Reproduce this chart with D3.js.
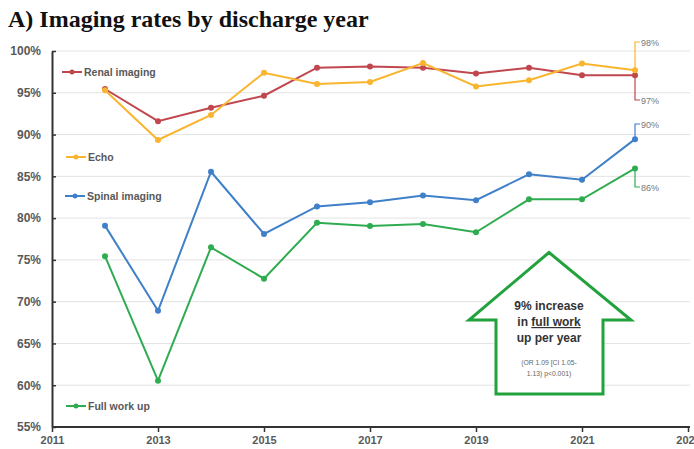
<!DOCTYPE html>
<html><head><meta charset="utf-8">
<script src="https://cdn.jsdelivr.net/npm/d3@7"></script>
<style>body{margin:0;background:#fff}svg{display:block}</style>
</head><body>
<svg id="c" width="694" height="449"></svg>
<script>
const years = [2012,2013,2014,2015,2016,2017,2018,2019,2020,2021,2022];
const renal  = [95.45,91.6,93.2,94.65,98.0,98.15,98.0,97.3,98.0,97.1,97.1];
const echo   = [95.3,89.35,92.35,97.4,96.05,96.3,98.55,95.75,96.5,98.5,97.7];
const spinal = [79.1,68.9,85.55,78.1,81.4,81.9,82.7,82.15,85.25,84.6,89.45];
const full   = [75.45,60.55,76.5,72.75,79.45,79.05,79.3,78.3,82.25,82.25,85.95];
const seriesNames = ["Renal imaging","Echo","Spinal imaging","Full work up"];
const endLabels = ["97%","98%","90%","86%"];
const xTicks = [2011,2013,2015,2017,2019,2021,2023];
const yTicks = [55,60,65,70,75,80,85,90,95,100];
const colors = ["#c0474e","#f9b52f","#3f80c8","#2fac50"];

const svg = d3.select("#c");
const x = d3.scaleLinear().domain([2011,2023]).range([52,688]);
const y = d3.scaleLinear().domain([55,100]).range([427,51]);

svg.append("text").attr("x",8).attr("y",27)
  .attr("font-family","Liberation Serif").attr("font-weight","bold").attr("font-size",24)
  .attr("fill","#111").text("A) Imaging rates by discharge year");

// gridlines
svg.append("g").selectAll("line").data(yTicks.filter(d=>d>55)).join("line")
  .attr("x1",52).attr("x2",690).attr("y1",d=>y(d)).attr("y2",d=>y(d))
  .attr("stroke","#e3e3e3").attr("stroke-width",1);

const yAxis = svg.append("g").attr("transform","translate(52,0)")
  .call(d3.axisLeft(y).tickValues(yTicks).tickFormat(d=>d+"%").tickSize(4).tickSizeOuter(0));
const xAxis = svg.append("g").attr("transform","translate(0,427)")
  .call(d3.axisBottom(x).tickValues(xTicks).tickFormat(d3.format("d")).tickSize(5).tickSizeOuter(0));
[yAxis,xAxis].forEach(a=>{
  a.select(".domain").attr("stroke","#333").attr("stroke-width",2);
  a.selectAll(".tick line").attr("stroke","#333").attr("stroke-width",1.5);
  a.selectAll("text").attr("font-family","Liberation Sans").attr("font-weight","bold")
   .attr("font-size",12).attr("fill","#595959");
});
yAxis.selectAll(".tick line").attr("x2",4);
yAxis.selectAll("text").attr("x",-11);
xAxis.selectAll("text").attr("y",9).attr("font-size",11);
xAxis.select(".domain").attr("d","M52,0H690");

const data = [renal,echo,spinal,full];
const line = d3.line().x((d,i)=>x(years[i])).y(d=>y(d));
data.forEach((vals,k)=>{
  const g = svg.append("g");
  g.append("path").datum(vals).attr("d",line).attr("fill","none")
    .attr("stroke",colors[k]).attr("stroke-width",2);
  g.selectAll("circle").data(vals).join("circle")
    .attr("cx",(d,i)=>x(years[i])).attr("cy",d=>y(d)).attr("r",3).attr("fill",colors[k]);
});

// inline legend labels
const legY = [72,157,196,406];
const legX = [62,66,65,66];
seriesNames.forEach((n,k)=>{
  const g = svg.append("g");
  g.append("line").attr("x1",legX[k]).attr("x2",legX[k]+20).attr("y1",legY[k]).attr("y2",legY[k])
    .attr("stroke",colors[k]).attr("stroke-width",2);
  g.append("circle").attr("cx",legX[k]+10).attr("cy",legY[k]).attr("r",2.5).attr("fill",colors[k]);
  g.append("text").attr("x",legX[k]+22).attr("y",legY[k]+4)
    .attr("font-family","Liberation Sans").attr("font-weight","bold").attr("font-size",10.5)
    .attr("fill","#595959").text(n);
});

// end labels with connectors
const endY = [100,42,124,187];
data.forEach((vals,k)=>{
  const px = x(years[years.length-1]), py = y(vals[vals.length-1]);
  svg.append("path").attr("d",`M${px},${py}V${endY[k]}H${px+5}`)
    .attr("fill","none").attr("stroke",colors[k]).attr("stroke-width",1.2);
  svg.append("text").attr("x",px+6).attr("y",endY[k]+3.5)
    .attr("font-family","Liberation Sans").attr("font-size",9).attr("fill","#777").text(endLabels[k]);
});

// arrow annotation
const arrow = [[549,252.5],[631,320],[603,320],[603,394],[496,394],[496,320],[469,320]];
svg.append("path").attr("d","M"+arrow.map(p=>p.join(",")).join("L")+"Z")
  .attr("fill","#fff").attr("stroke","#22a23c").attr("stroke-width",3).attr("stroke-linejoin","miter");
const t = svg.append("g").attr("font-family","Liberation Sans").attr("text-anchor","middle");
t.append("text").attr("x",549).attr("y",310).attr("font-weight","bold").attr("font-size",12).attr("fill","#333").text("9% increase");
const l2 = t.append("text").attr("x",549).attr("y",326).attr("font-weight","bold").attr("font-size",12).attr("fill","#333");
l2.append("tspan").text("in ");
l2.append("tspan").attr("text-decoration","underline").text("full work");
t.append("text").attr("x",549).attr("y",342).attr("font-weight","bold").attr("font-size",12).attr("fill","#333").text("up per year");
t.append("text").attr("x",549).attr("y",365).attr("font-size",6.8).attr("fill","#666").text("(OR 1.09 [CI 1.05-");
t.append("text").attr("x",549).attr("y",376).attr("font-size",6.8).attr("fill","#666").text("1.13) p<0.001)");
</script>
</body></html>
